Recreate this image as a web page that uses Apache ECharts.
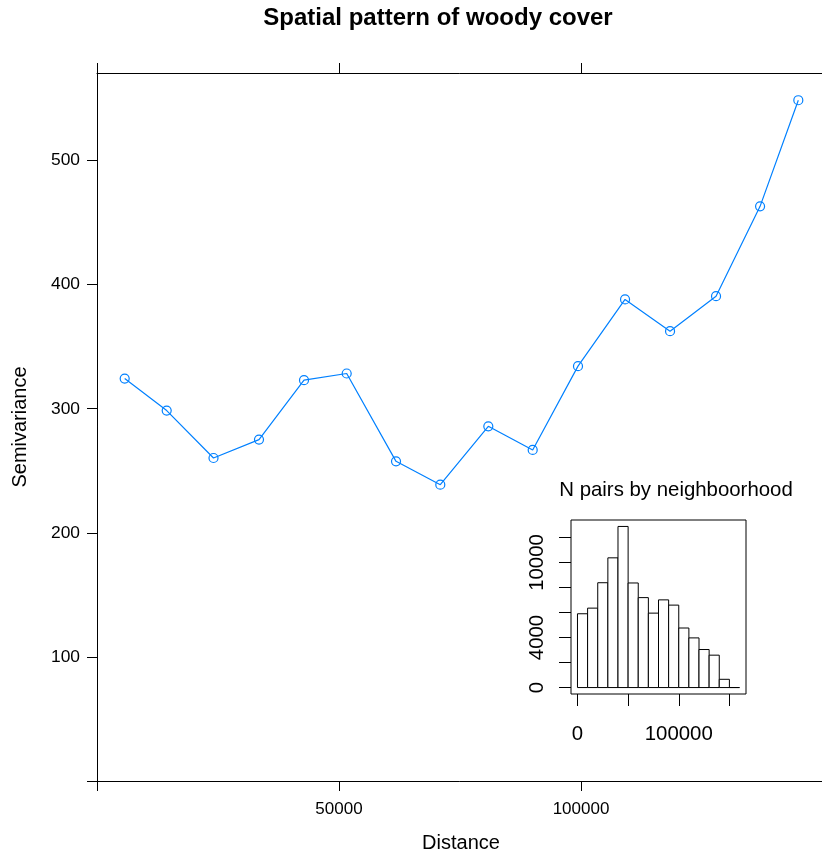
<!DOCTYPE html>
<html>
<head>
<meta charset="utf-8">
<title>Spatial pattern of woody cover</title>
<script src="https://cdn.jsdelivr.net/npm/echarts@6/dist/echarts.min.js"></script>
<style>
  html, body { margin: 0; padding: 0; background: #ffffff; }
  #chart { width: 822px; height: 853px; }
</style>
</head>
<body>
<div id="chart"></div>
<script>
// Empirical semivariogram: lag distance and semivariance per lag class
const distance = [5720, 14400, 24070, 33470, 42770, 51590, 61780, 70930, 80850, 90020, 99380, 109100, 118400, 127900, 137000, 144900];
const semivariance = [324.3, 298.5, 260.3, 275.1, 323.0, 328.4, 257.6, 238.8, 285.8, 266.8, 334.3, 388.1, 362.5, 390.7, 463.1, 548.6];

// Main panel ticks and labels
const mainXTicks = [0, 50000, 100000, 150000];
const mainXLabels = [50000, 100000];
const mainYTicks = [0, 100, 200, 300, 400, 500];
const mainYLabels = [100, 200, 300, 400, 500];

// Histogram of point pairs per neighbourhood distance class
const binBreaks = [0, 10000, 20000, 30000, 40000, 50000, 60000, 70000, 80000, 90000, 100000, 110000, 120000, 130000, 140000, 150000, 160000];
const binCounts = [5900, 6350, 8380, 10370, 12880, 8360, 7190, 5950, 7010, 6590, 4760, 3970, 3040, 2590, 660, 0];

// Histogram ticks and labels
const histXTicks = [0, 50000, 100000, 150000];
const histXLabels = [0, 100000];
const histYTicks = [0, 2000, 4000, 6000, 8000, 10000, 12000];
const histYLabels = [0, 4000, 10000];

const FONT = '"Liberation Sans", Arial, Helvetica, sans-serif';
const BLUE = '#0080ff';

// Axis limits padded 4% beyond the data, as in the original plotting defaults
const mainXMax = Math.max(...distance) * 1.04;
const mainYMax = Math.max(...semivariance) * 1.04;
const histSpanX = binBreaks[binBreaks.length - 1] - binBreaks[0];
const histXMin = binBreaks[0] - 0.04 * histSpanX;
const histXMax = binBreaks[binBreaks.length - 1] + 0.04 * histSpanX;
const histYMaxCount = Math.max(...binCounts);
const histYMin = -0.04 * histYMaxCount;
const histYMax = 1.04 * histYMaxCount;

const lineData = distance.map((d, i) => [d, semivariance[i]]);
const histData = binCounts.map((c, i) => [binBreaks[i], binBreaks[i + 1], c]);

const plain = v => String(v);

function frameAxis(extra) {
  return Object.assign({
    type: 'value',
    splitLine: { show: false },
    axisLine: { show: true, onZero: false, lineStyle: { color: '#000', width: 1 } },
    axisTick: { show: true, inside: false, length: 10, lineStyle: { color: '#000', width: 1 } },
    axisLabel: { show: false }
  }, extra);
}

const chart = echarts.init(document.getElementById('chart'), null, { renderer: 'canvas' });

chart.setOption({
  animation: false,
  backgroundColor: '#ffffff',
  grid: [
    { left: 97, top: 73, width: (mainXMax / 1000) * 4.84, height: 708, containLabel: false, outerBoundsMode: 'none' },
    { left: 571, top: 520, width: 175, height: 174, containLabel: false, outerBoundsMode: 'none',
      show: true, borderColor: '#000', borderWidth: 1, backgroundColor: 'transparent' }
  ],
  xAxis: [
    frameAxis({
      gridIndex: 0, position: 'bottom', min: 0, max: mainXMax,
      axisTick: { show: true, inside: false, length: 10, customValues: mainXTicks, lineStyle: { color: '#000', width: 1 } },
      axisLabel: { show: true, customValues: mainXLabels, formatter: plain, margin: 20,
                   color: '#000', fontSize: 17, fontFamily: FONT }
    }),
    frameAxis({
      gridIndex: 0, position: 'top', min: 0, max: mainXMax,
      axisTick: { show: true, inside: false, length: 10, customValues: mainXTicks, lineStyle: { color: '#000', width: 1 } }
    }),
    {
      type: 'value', gridIndex: 1, position: 'bottom', min: histXMin, max: histXMax,
      splitLine: { show: false },
      axisLine: { show: false, onZero: false },
      axisTick: { show: true, inside: false, length: 12, customValues: histXTicks, lineStyle: { color: '#000', width: 1 } },
      axisLabel: { show: true, customValues: histXLabels, formatter: plain, margin: 30,
                   color: '#000', fontSize: 20.4, fontFamily: FONT }
    }
  ],
  yAxis: [
    frameAxis({
      gridIndex: 0, position: 'left', min: 0, max: mainYMax,
      axisTick: { show: true, inside: false, length: 10, customValues: mainYTicks, lineStyle: { color: '#000', width: 1 } },
      axisLabel: { show: true, customValues: mainYLabels, formatter: plain, margin: 17,
                   color: '#000', fontSize: 17.4, fontFamily: FONT }
    }),
    frameAxis({
      gridIndex: 0, position: 'right', min: 0, max: mainYMax,
      axisTick: { show: true, inside: false, length: 10, customValues: mainYTicks, lineStyle: { color: '#000', width: 1 } }
    }),
    {
      type: 'value', gridIndex: 1, position: 'left', min: histYMin, max: histYMax,
      splitLine: { show: false },
      axisLine: { show: false, onZero: false },
      axisTick: { show: true, inside: false, length: 12, customValues: histYTicks, lineStyle: { color: '#000', width: 1 } },
      axisLabel: { show: true, customValues: histYLabels, formatter: plain, rotate: 90, margin: 24,
                   color: '#000', fontSize: 20.4, fontFamily: FONT }
    }
  ],
  series: [
    {
      type: 'line',
      xAxisIndex: 0, yAxisIndex: 0,
      data: lineData,
      symbol: 'circle',
      symbolSize: 9,
      showAllSymbol: true,
      lineStyle: { color: BLUE, width: 1.2 },
      itemStyle: { color: 'rgba(0,0,0,0)', borderColor: BLUE, borderWidth: 1.2 },
      emphasis: { disabled: true },
      z: 3
    },
    {
      type: 'custom',
      xAxisIndex: 2, yAxisIndex: 2,
      data: histData,
      encode: { x: [0, 1], y: 2 },
      renderItem: function (params, api) {
        const x0 = api.value(0), x1 = api.value(1), h = api.value(2);
        const p0 = api.coord([x0, 0]);
        const p1 = api.coord([x1, h]);
        return {
          type: 'polygon',
          shape: { points: [[p0[0], p0[1]], [p1[0], p0[1]], [p1[0], p1[1]], [p0[0], p1[1]]] },
          style: { fill: '#ffffff', stroke: '#000000', lineWidth: 1 }
        };
      },
      z: 3
    }
  ],
  graphic: [
    { type: 'text', x: 438, y: 18,
      style: { text: 'Spatial pattern of woody cover', font: 'bold 24px ' + FONT, fill: '#000',
               textAlign: 'center', textVerticalAlign: 'middle' } },
    { type: 'text', x: 461, y: 843,
      style: { text: 'Distance', font: '20px ' + FONT, fill: '#000',
               textAlign: 'center', textVerticalAlign: 'middle' } },
    { type: 'text', x: 20, y: 427, rotation: Math.PI / 2,
      style: { text: 'Semivariance', font: '20px ' + FONT, fill: '#000',
               textAlign: 'center', textVerticalAlign: 'middle' } },
    { type: 'text', x: 676, y: 490,
      style: { text: 'N pairs by neighboorhood', font: '20.4px ' + FONT, fill: '#000',
               textAlign: 'center', textVerticalAlign: 'middle' } }
  ]
});
</script>
</body>
</html>
